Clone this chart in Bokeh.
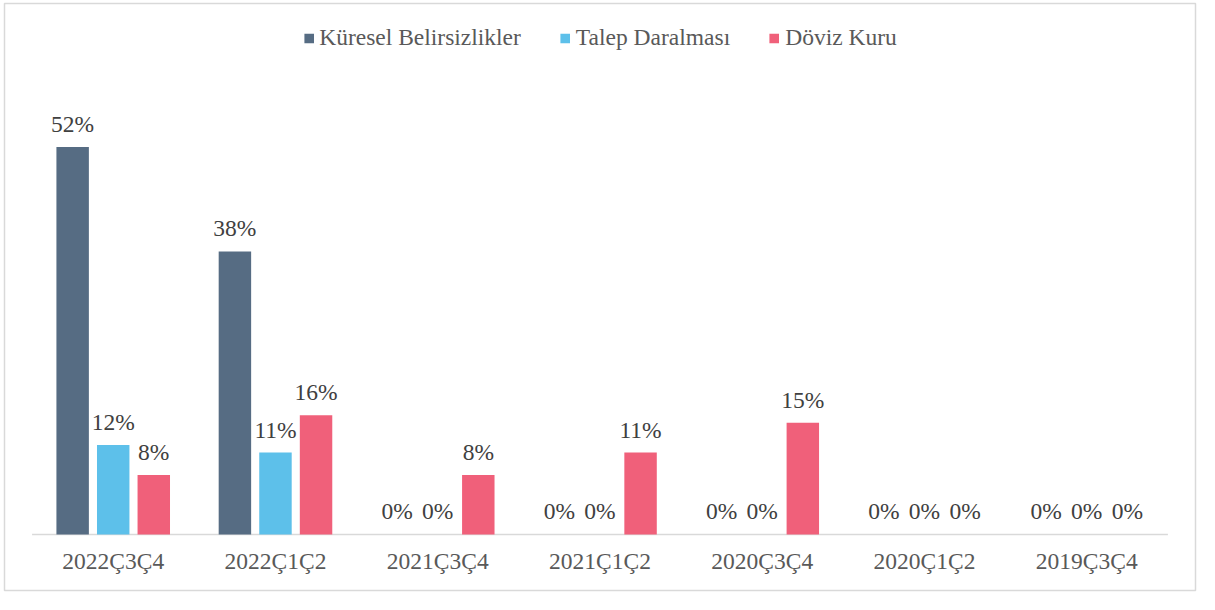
from bokeh.plotting import figure
from bokeh.models import ColumnDataSource, Legend, LegendItem, LabelSet, FactorRange, Range1d
from bokeh.transform import dodge
from bokeh.embed import file_html
from bokeh.resources import INLINE

categories = ["2022Ç3Ç4", "2022Ç1Ç2", "2021Ç3Ç4", "2021Ç1Ç2", "2020Ç3Ç4", "2020Ç1Ç2", "2019Ç3Ç4"]
series_names = ["Küresel Belirsizlikler", "Talep Daralması", "Döviz Kuru"]
kuresel = [52, 38, 0, 0, 0, 0, 0]
talep = [12, 11, 0, 0, 0, 0, 0]
doviz = [8, 16, 8, 11, 15, 0, 0]
colors = ["#566C83", "#5DC0EA", "#F0607A"]

FONT = "'Liberation Serif', 'Times New Roman', serif"
FS = "23.5px"

src = ColumnDataSource(dict(
    cat=categories,
    k=kuresel, t=talep, d=doviz,
    kl=[f"{v}%" for v in kuresel],
    tl=[f"{v}%" for v in talep],
    dl=[f"{v}%" for v in doviz],
    zero=[0] * len(categories),
))

W, H = 1199, 594
# frame = chart border; y range extended below 0 to leave room for category labels
p = figure(x_range=FactorRange(*categories), y_range=Range1d(-7.52, 71.28),
           width=W, height=H, output_backend="svg", toolbar_location=None,
           min_border_left=4, min_border_right=4, min_border_bottom=4, min_border_top=3)
p.outline_line_color = "#d9d9d9"
p.outline_line_width = 1.5
p.xgrid.visible = False
p.ygrid.visible = False
p.xaxis.visible = False
p.yaxis.visible = False
p.x_range.range_padding = 0.17
p.x_range.range_padding_units = "absolute"
p.x_range.factor_padding = 0

# category axis baseline spanning all categories (synthetic coords 0..n)
p.segment(x0=[0], y0=[0], x1=[len(categories)], y1=[0], line_color="#d9d9d9", line_width=1.5)

offsets = [-0.25, 0.0, 0.25]
keys = ["k", "t", "d"]
lkeys = ["kl", "tl", "dl"]
renderers = []
for off, key, lk, col in zip(offsets, keys, lkeys, colors):
    r = p.vbar(x=dodge("cat", off, range=p.x_range), top=key, width=0.2, source=src,
               fill_color=col, line_color=None)
    renderers.append(r)
    labels = LabelSet(x=dodge("cat", off, range=p.x_range), y=key, text=lk, source=src,
                      text_align="center", text_baseline="middle", y_offset=23,
                      text_font=FONT, text_font_size=FS, text_color="#404040")
    p.add_layout(labels)

# category labels
p.add_layout(LabelSet(x="cat", y="zero", text="cat", source=src,
                      text_align="center", text_baseline="middle", y_offset=-27,
                      text_font=FONT, text_font_size=FS, text_color="#595959"))

legend = Legend(items=[LegendItem(label=n, renderers=[r]) for n, r in zip(series_names, renderers)],
                orientation="horizontal", location="top_center",
                label_text_font=FONT, label_text_font_size=FS, label_text_color="#595959",
                glyph_width=12, glyph_height=12, label_standoff=5, spacing=38,
                border_line_color=None, background_fill_alpha=0, padding=0, margin=21)
p.add_layout(legend, "center")

open("out.html", "w").write(file_html(p, INLINE))
